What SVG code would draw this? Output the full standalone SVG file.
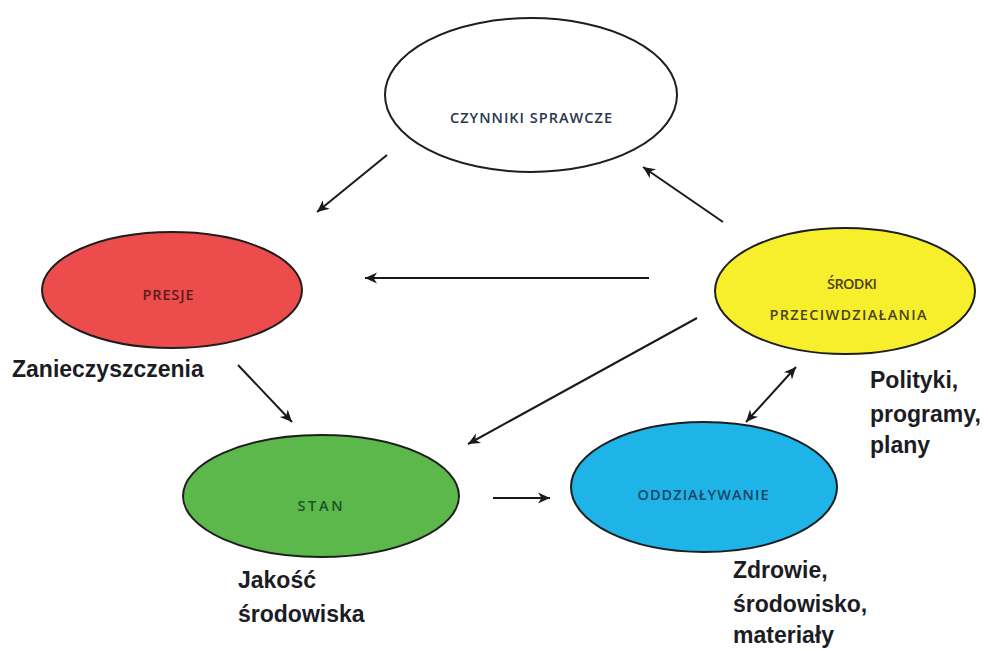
<svg xmlns="http://www.w3.org/2000/svg" width="988" height="651" viewBox="0 0 988 651">
  <style>
    .node { stroke: #1e1e1e; stroke-width: 2; }
    .lbl { font-family: "Open Sans", "Liberation Sans", Arial, sans-serif; font-size: 14.5px; font-weight: 600; text-anchor: middle; }
    .note { font-family: "Liberation Sans", Arial, sans-serif; font-size: 23px; font-weight: bold; fill: #1c1c24; }
    .conn { stroke: #1a1a1a; stroke-width: 2; fill: none; marker-end: url(#ah); }
  </style>
  <defs>
    <marker id="ah" markerUnits="userSpaceOnUse" markerWidth="14" markerHeight="14" viewBox="0 0 14 14" refX="13" refY="7" orient="auto-start-reverse">
      <path d="M1,1.5 L13,7 L1,12.5 L4.5,7 z" fill="#1a1a1a"/>
    </marker>
  </defs>
  <rect width="988" height="651" fill="#ffffff"/>

  <g id="czynniki">
    <ellipse class="node" cx="531" cy="95" rx="146" ry="77" fill="#ffffff"/>
    <text class="lbl" x="531" y="123" fill="#283650" textLength="162">CZYNNIKI SPRAWCZE</text>
  </g>
  <g id="presje">
    <ellipse class="node" cx="172" cy="290" rx="130" ry="58" fill="#ec4c4c"/>
    <text class="lbl" x="168" y="300" fill="#5c1c1c" textLength="51">PRESJE</text>
    <text class="note" x="12" y="377">Zanieczyszczenia</text>
  </g>
  <g id="srodki">
    <ellipse class="node" cx="845" cy="291" rx="130" ry="63" fill="#f8ef2c"/>
    <text class="lbl" x="852" y="289" fill="#4a4418" textLength="50">ŚRODKI</text>
    <text class="lbl" x="848" y="320" fill="#4a4418" textLength="157">PRZECIWDZIAŁANIA</text>
    <text class="note" x="870" y="388">Polityki,</text>
    <text class="note" x="870" y="422">programy,</text>
    <text class="note" x="870" y="453">plany</text>
  </g>
  <g id="stan">
    <ellipse class="node" cx="321" cy="496" rx="138" ry="61" fill="#5cb84a"/>
    <text class="lbl" x="320" y="511" fill="#1d5228" textLength="45">STAN</text>
    <text class="note" x="238" y="588">Jakość</text>
    <text class="note" x="238" y="622">środowiska</text>
  </g>
  <g id="oddzialywanie">
    <ellipse class="node" cx="704" cy="487" rx="133" ry="65" fill="#1eb4e8"/>
    <text class="lbl" x="703" y="500" fill="#1a4466" textLength="131">ODDZIAŁYWANIE</text>
    <text class="note" x="733" y="578">Zdrowie,</text>
    <text class="note" x="733" y="612">środowisko,</text>
    <text class="note" x="733" y="643">materiały</text>
  </g>

  <g id="connectors">
    <line class="conn" x1="387" y1="155" x2="317" y2="212"/>
    <line class="conn" x1="723" y1="222" x2="643" y2="167"/>
    <line class="conn" x1="649" y1="278" x2="365" y2="278"/>
    <line class="conn" x1="697" y1="318" x2="468" y2="444"/>
    <line class="conn" x1="238" y1="365" x2="292" y2="422"/>
    <line class="conn" x1="493" y1="498" x2="550" y2="498"/>
    <line class="conn" x1="746" y1="422" x2="796" y2="367" style="marker-start: url(#ah)"/>
  </g>
</svg>
